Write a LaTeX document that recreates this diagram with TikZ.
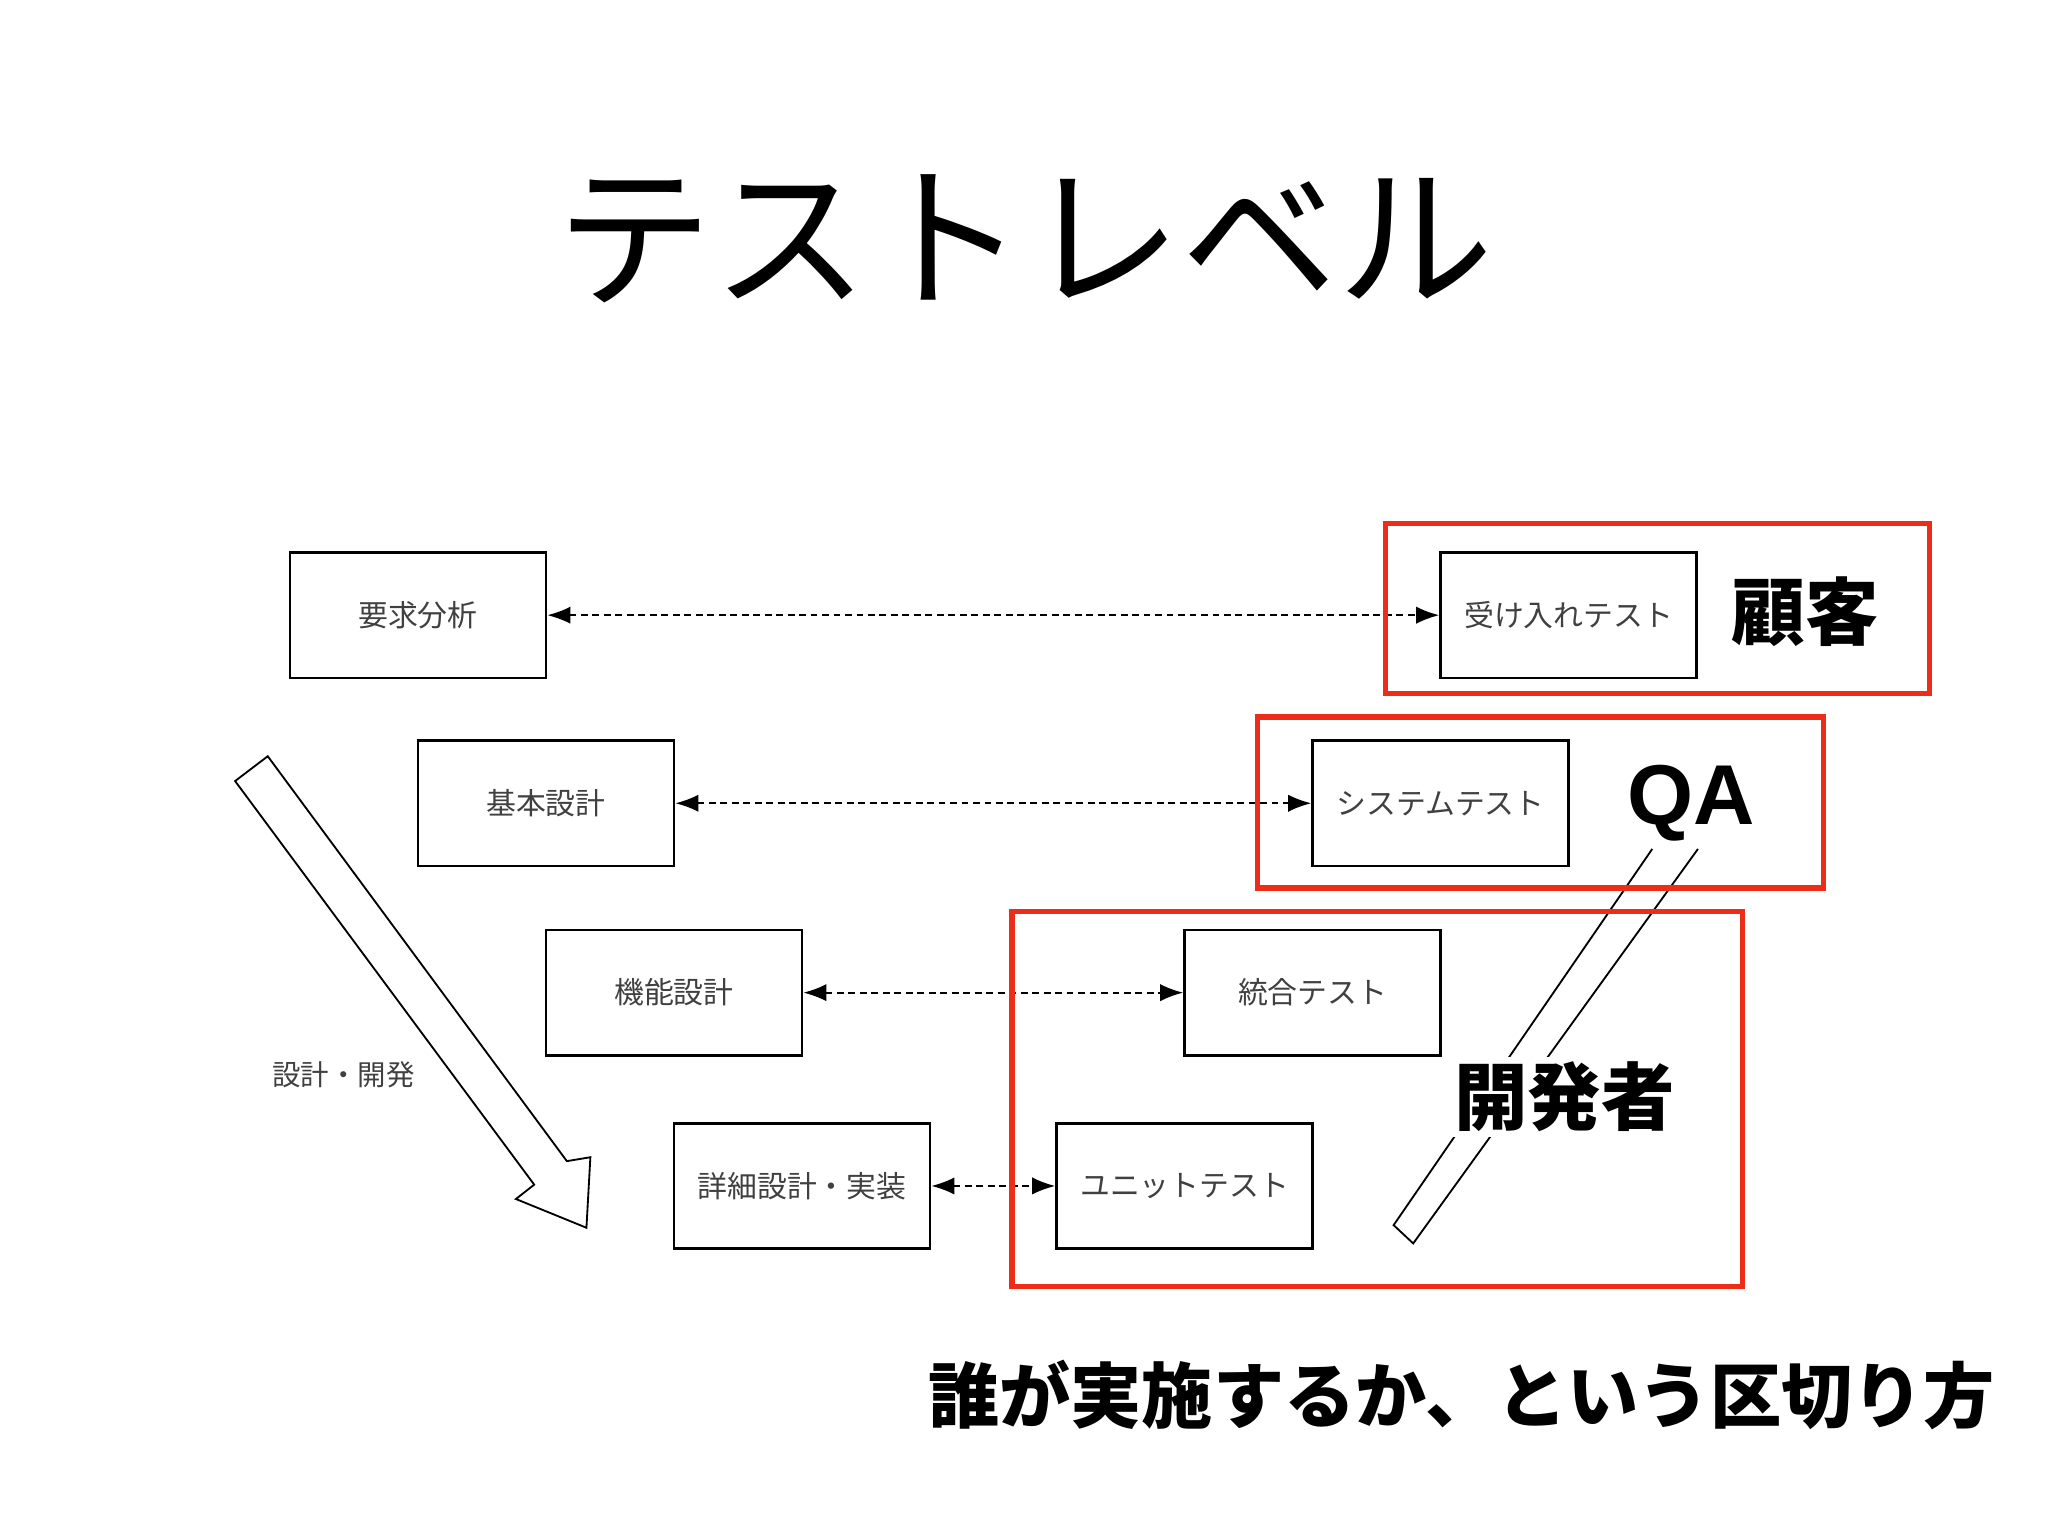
\documentclass[tikz,border=0pt]{standalone}
\usepackage{fontspec}
\setmainfont{Noto Sans CJK JP}
\newfontfamily\qafont{Liberation Sans}
\usetikzlibrary{arrows.meta}
\definecolor{rbox}{RGB}{238,45,25}
\begin{document}
\begin{tikzpicture}[x=0.01cm,y=-0.01cm,
  proc/.style={draw,semithick,minimum width=1.96cm,minimum height=0.96cm,font=\fontsize{6.5}{7}\selectfont,text=black!75},
  redbox/.style={draw=rbox,line width=1.2pt},
  dlink/.style={dash pattern=on 1.5pt off 1pt,thin,{Latex[length=5pt]}-{Latex[length=5pt]}},
  big/.style={font=\fontsize{16}{18}\selectfont\bfseries,fill=white,inner sep=1pt}]
\useasboundingbox (0,0) rectangle (1568,1176);
\node[font=\fontsize{34}{38}\selectfont] (title) at (785,183) {テストレベル};
\node[proc] (a1) at (320,471) {要求分析};
\node[proc] (a2) at (418,615) {基本設計};
\node[proc] (a3) at (516,760) {機能設計};
\node[proc] (a4) at (614,908) {詳細設計・実装};
\node[proc] (b1) at (1201,471) {受け入れテスト};
\node[proc] (b2) at (1103,615) {システムテスト};
\node[proc] (b3) at (1005,760) {統合テスト};
\node[proc] (b4) at (907,908) {ユニットテスト};
\draw[dlink] (a1) -- (b1);
\draw[dlink] (a2) -- (b2);
\draw[dlink] (a3) -- (b3);
\draw[dlink] (a4) -- (b4);
% left hollow arrow
\draw[thin] (180,598) -- (205,579) -- (434,889) -- (452,886) -- (449,940) -- (395,918) -- (409,907) -- cycle;
\node[font=\fontsize{6.2}{7}\selectfont,text=black!75] (dev) at (263,823) {設計・開発};
% right shaft
\draw[thin] (1265,650) -- (1067,938) -- (1082,952) -- (1300,650);
\node[redbox,minimum width=4.16cm,minimum height=1.30cm] (r1) at (1269,466) {};
\node[redbox,minimum width=4.33cm,minimum height=1.31cm] (r2) at (1179.5,614.5) {};
\node[redbox,minimum width=5.59cm,minimum height=2.87cm] (r3) at (1054.5,841.5) {};
\node[big] (l1) at (1382,468) {顧客};
\node[font=\fontsize{18.5}{22}\selectfont\qafont\bfseries,fill=white,inner sep=1pt] (l2) at (1295,615) {QA};
\node[big] (l3) at (1198,840) {開発者};
\node[font=\fontsize{15.5}{17}\selectfont\bfseries] (sub) at (1119,1068) {誰が実施するか、という区切り方};
\end{tikzpicture}
\end{document}
